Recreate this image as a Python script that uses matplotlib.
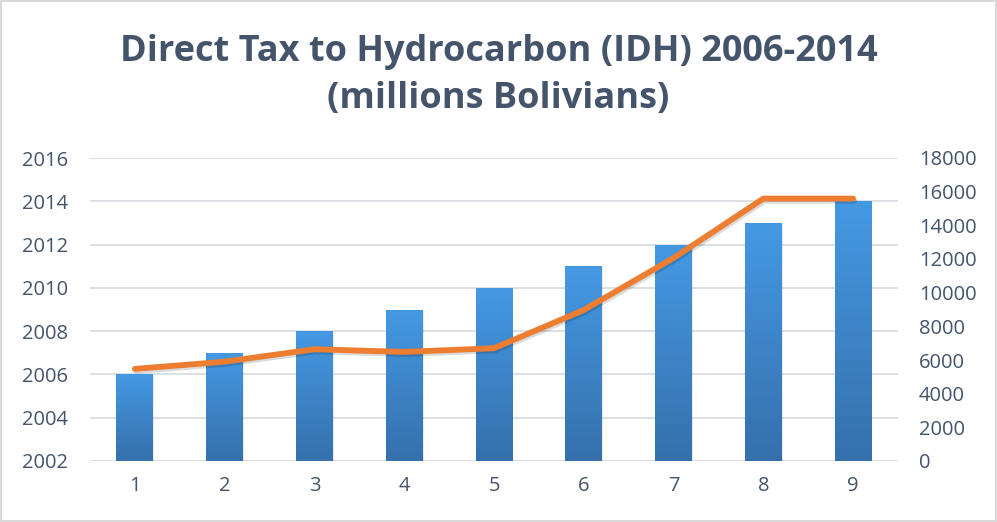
import numpy as np
import matplotlib.pyplot as plt
import matplotlib.patheffects as pe
from matplotlib.colors import LinearSegmentedColormap

# years (left axis) and IDH revenue in millions of Bolivianos (right axis)
positions = [1, 2, 3, 4, 5, 6, 7, 8, 9]
years = [2006, 2007, 2008, 2009, 2010, 2011, 2012, 2013, 2014]
idh = [5470, 5900, 6640, 6480, 6700, 8970, 12060, 15590, 15590]

text_col = '#44546A'
grid_col = '#D9DDE3'

plt.rcParams['font.family'] = ['Open Sans', 'DejaVu Sans']

fig = plt.figure(figsize=(9.97, 5.22), dpi=100)
fig.patch.set_edgecolor('#D9D9D9')
fig.patch.set_linewidth(1.5)

ax = fig.add_axes([90 / 997, 61 / 522, 808 / 997, 303 / 522])
ax2 = ax.twinx()

# bars with vertical gradient
bars = ax.bar(positions, years, width=0.41, color='none', zorder=3)
ax.set_ylim(2002, 2016)
ax.set_xlim(0.5, 9.5)
grad = LinearSegmentedColormap.from_list('bar', ['#3570AC', '#4599E3'])
gimg = np.linspace(0, 1, 256).reshape(-1, 1)
for b in bars:
    x0, w, h = b.get_x(), b.get_width(), b.get_height()
    # soft shadow
    ax.add_patch(plt.Rectangle((x0 + 0.01, 2002), w, h - 2002 - 0.05,
                               color='#000000', alpha=0.08, zorder=2, lw=0))
    im = ax.imshow(gimg, cmap=grad, origin='lower', aspect='auto',
                   extent=(x0, x0 + w, 2002, h), zorder=3)
    rect = plt.Rectangle((x0, 2002), w, h - 2002, transform=ax.transData)
    im.set_clip_path(rect)

ax.set_yticks(range(2002, 2017, 2))
ax.yaxis.grid(True, color=grid_col, lw=1.3, zorder=0)
ax.set_axisbelow(True)
ax.set_xticks(positions)
ax.set_xticklabels([str(p) for p in positions])

# line on the secondary axis
ax2.plot(positions, idh, color='#ED7D31', lw=4.2, solid_capstyle='round',
         solid_joinstyle='round', zorder=5,
         path_effects=[pe.SimpleLineShadow(offset=(1, -1.5), alpha=0.15, shadow_color='#000000'),
                       pe.Normal()])
ax2.set_ylim(0, 18000)
ax2.set_yticks(range(0, 18001, 2000))

for a in (ax, ax2):
    for s in a.spines.values():
        s.set_visible(False)
    a.tick_params(length=0, labelsize=14.5, colors=text_col)
ax.tick_params(axis='y', pad=16)
ax2.tick_params(axis='y', pad=15)
ax.tick_params(axis='x', pad=11)

fig.text(0.5, 0.855, 'Direct Tax to Hydrocarbon (IDH) 2006-2014\n(millions Bolivians)',
         ha='center', va='center', fontsize=26, fontweight='bold', color=text_col,
         linespacing=1.42)

fig.savefig('out.png', dpi=100)
